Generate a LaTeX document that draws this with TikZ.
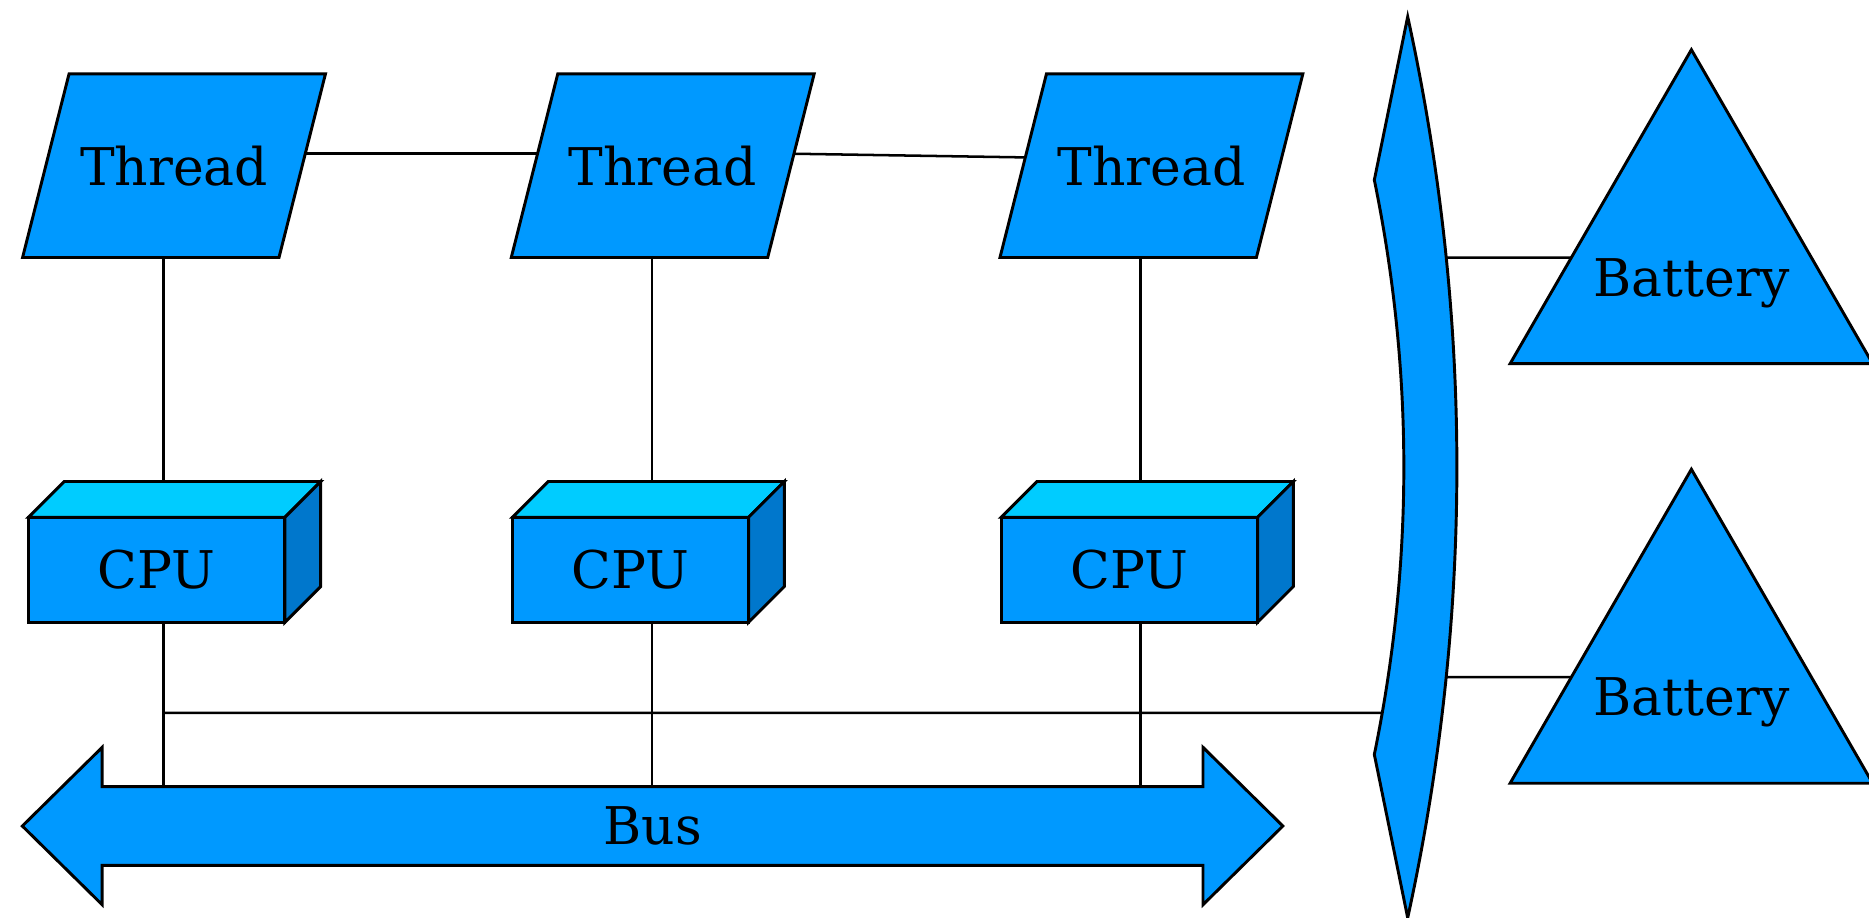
\documentclass[tikz,border=0pt]{standalone}
\usepackage{fontspec}
\setmainfont{DejaVu Serif}
\usetikzlibrary{positioning,calc,intersections,shapes.geometric,backgrounds}
\definecolor{partblue}{HTML}{0099FF}
\definecolor{cputop}{HTML}{00CCFF}
\definecolor{cpuside}{HTML}{0077CC}
\newcommand*{\lbl}{\fontsize{12.4}{15}\selectfont}
\tikzset{
  part/.style={draw, fill=partblue, line width=0.7pt, inner sep=0pt, outer sep=0pt},
  thread/.style={inner sep=0pt, outer sep=0pt, minimum width=2.15cm, minimum height=1.54cm},
  cpu/.style={part, rectangle, minimum height=0.88cm},
  battery/.style={part, regular polygon, regular polygon sides=3, minimum size=3.51cm},
  bus/.style={inner sep=0pt, outer sep=0pt, minimum width=9.23cm, minimum height=0.66cm},
  wire/.style={line width=0.6pt}
}

\begin{document}
\begin{tikzpicture}[x=0.01cm,y=-0.01cm,font=\lbl]
\useasboundingbox (0,0) rectangle (1568,770);
% threads and cpus
\foreach \i/\x in {1/146,2/556,3/966}
  \node[thread] (t\i) at (\x,139) {Thread};
\foreach \i/\x/\w in {1/131.5/2.15cm,2/529/1.98cm,3/947.5/2.15cm}
  \node[cpu, minimum width=\w] (cpu\i) at (\x,478) {CPU};
\foreach \i in {1,2,3} {
  \draw[line width=0.7pt, fill=cputop] (cpu\i.north west) -- ++(30,-30)
    -- ($(cpu\i.north east)+(30,-30)$) -- (cpu\i.north east) -- cycle;
  \draw[line width=0.7pt, fill=cpuside] (cpu\i.north east) -- ++(30,-30)
    -- ($(cpu\i.south east)+(30,-30)$) -- (cpu\i.south east) -- cycle;
}
\node[bus] (bus) at (547.5,693) {Bus};
\begin{scope}[on background layer]
\foreach \i in {1,2,3}
  \draw[part] ($(t\i.north west)+(19.5,0)$) -- ($(t\i.north east)+(19.5,0)$)
    -- ($(t\i.south east)+(-19.5,0)$) -- ($(t\i.south west)+(-19.5,0)$) -- cycle;
\draw[part] (bus.north west) -- ++(0,-33) -- ($(bus.west)+(-67,0)$)
  -- ($(bus.south west)+(0,33)$) -- (bus.south west) -- (bus.south east)
  -- ++(0,33) -- ($(bus.east)+(67,0)$) -- ($(bus.north east)+(0,-33)$)
  -- (bus.north east) -- cycle;
\end{scope}
% lens
\draw[part, name path=lens] (1181,14) .. controls (1236,266) and (1236,518) .. (1181,770)
  -- (1153,633) .. controls (1186,472) and (1186,312) .. (1153,151) -- cycle;
\node[battery, label={[yshift=-0.2cm]center:Battery}] (b1) at (1419,217.3) {};
\node[battery, label={[yshift=-0.2cm]center:Battery}] (b2) at (1419,569.3) {};

\draw[wire] ($(t1.north east)!0.435!(t1.south east)+(2.5,0)$)
  -- ($(t2.north west)!0.435!(t2.south west)+(2.5,0)$);
\draw[wire] ($(t2.north east)!0.435!(t2.south east)+(2.5,0)$)
  -- ($(t3.north west)!0.455!(t3.south west)+(1.8,0)$);
\foreach \i in {1,2,3} {
  \draw[wire] ($(t\i.south)+(-9,0)$) -- ($(t\i.center |- cpu\i.north)+(-9,-30)$);
  \draw[wire] ($(t\i.center |- cpu\i.south)+(-9,0)$) -- ($(t\i.center |- bus.north)+(-9,0)$);
}
\coordinate (tap) at ($(t1.center |- cpu1.south)+(-9,76)$);
\path[name path=tapline] (tap) -- ++(1040,0);
\path[name intersections={of=lens and tapline,by={lensin}}];
\draw[wire] (tap) -- (lensin);
\foreach \i in {1,2} {
  \coordinate (bp\i) at ($(b\i.corner 1)!0.662!(b\i.corner 2)$);
  \path[name path=bh] (bp\i) -- ++(-130,0);
  \path[name intersections={of=lens and bh,by={lp\i}}];
  \draw[wire] (lp\i) -- (bp\i);
}
\end{tikzpicture}
\end{document}
